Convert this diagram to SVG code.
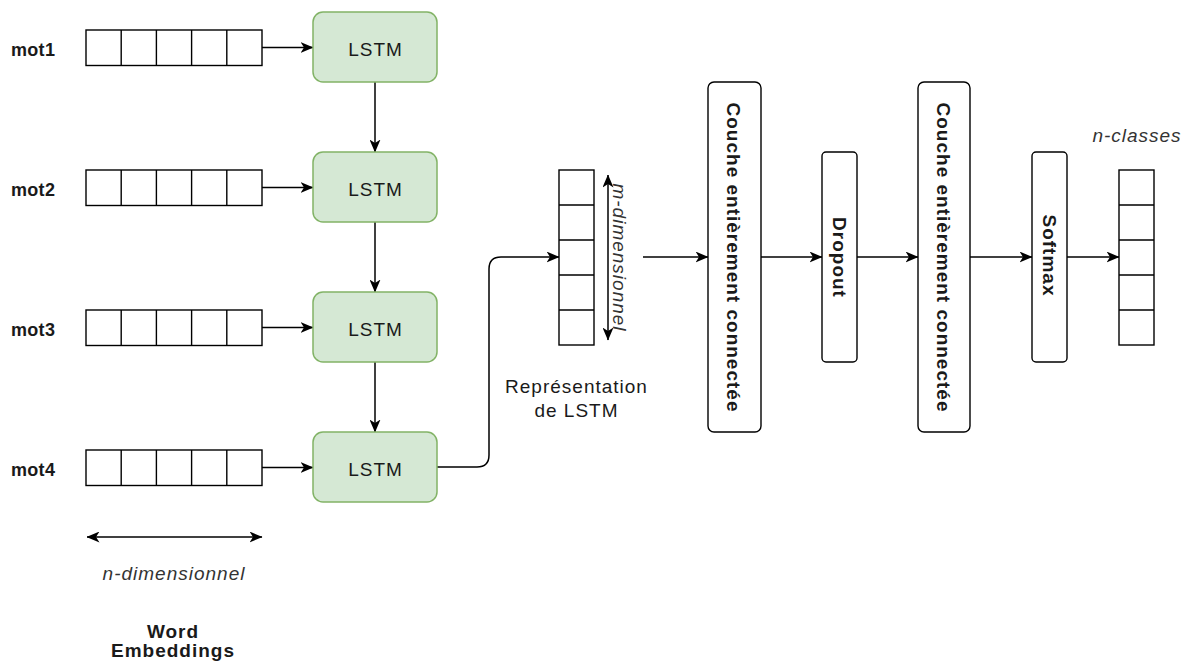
<svg xmlns="http://www.w3.org/2000/svg" width="1191" height="666" viewBox="0 0 1191 666">
<defs>
<marker id="arr" viewBox="0 0 13 11" markerWidth="13" markerHeight="11" refX="12.5" refY="5.5" orient="auto-start-reverse" markerUnits="userSpaceOnUse">
<path d="M0,0 L13,5.5 L0,11 L3.5,5.5 Z" fill="#000"/>
</marker>
<g id="vec5h">
<rect x="0" y="0" width="176" height="35.5" fill="#fff" stroke="#000" stroke-width="1.4"/>
<path d="M35.2,0 V35.5 M70.4,0 V35.5 M105.6,0 V35.5 M140.8,0 V35.5" stroke="#000" stroke-width="1.4" fill="none"/>
</g>
<g id="vec5v">
<rect x="0" y="0" width="35" height="175" fill="#fff" stroke="#000" stroke-width="1.4"/>
<path d="M0,35 H35 M0,70 H35 M0,105 H35 M0,140 H35" stroke="#000" stroke-width="1.4" fill="none"/>
</g>
</defs>
<style>
text { font-family: "Liberation Sans", Arial, sans-serif; font-size: 19px; fill: #1a1a1a; letter-spacing: 1px; }
.b { font-weight: bold; }
.m { font-size: 18px; letter-spacing: 0.3px; }
.i { font-style: italic; fill: #333; }
.mid { text-anchor: middle; }
.lstm { fill: #d5e8d4; stroke: #82b366; stroke-width: 1.5; }
.box { fill: #fff; stroke: #000; stroke-width: 1.4; }
.edge { fill: none; stroke: #000; stroke-width: 1.5; }
</style>

<g id="connectors">
<path class="edge" d="M262,47.5 H313" marker-end="url(#arr)"/>
<path class="edge" d="M262,187.5 H313" marker-end="url(#arr)"/>
<path class="edge" d="M262,327.5 H313" marker-end="url(#arr)"/>
<path class="edge" d="M262,467.5 H313" marker-end="url(#arr)"/>
<path class="edge" d="M375,82 V152" marker-end="url(#arr)"/>
<path class="edge" d="M375,222 V292" marker-end="url(#arr)"/>
<path class="edge" d="M375,362 V432" marker-end="url(#arr)"/>
<path class="edge" d="M437,467 H477 Q489,467 489,455 V269 Q489,257 501,257 H559" marker-end="url(#arr)"/>
<path class="edge" d="M643,257 H708" marker-end="url(#arr)"/>
<path class="edge" d="M761,257 H822" marker-end="url(#arr)"/>
<path class="edge" d="M857,257 H918" marker-end="url(#arr)"/>
<path class="edge" d="M970,257 H1032" marker-end="url(#arr)"/>
<path class="edge" d="M1067,257 H1119" marker-end="url(#arr)"/>
<path class="edge" d="M87,537 H262" marker-start="url(#arr)" marker-end="url(#arr)"/>
<path class="edge" d="M608,175 V340" marker-start="url(#arr)" marker-end="url(#arr)"/>
</g>

<g id="mot1"><text class="b m" x="11" y="56">mot1</text><use href="#vec5h" x="86" y="30"/></g>
<g id="mot2"><text class="b m" x="11" y="196">mot2</text><use href="#vec5h" x="86" y="170"/></g>
<g id="mot3"><text class="b m" x="11" y="336">mot3</text><use href="#vec5h" x="86" y="310"/></g>
<g id="mot4"><text class="b m" x="11" y="476">mot4</text><use href="#vec5h" x="86" y="450"/></g>

<g id="lstm1"><rect class="lstm" x="313" y="12" width="124" height="70" rx="10"/><text class="mid" x="375.5" y="55.5">LSTM</text></g>
<g id="lstm2"><rect class="lstm" x="313" y="152" width="124" height="70" rx="10"/><text class="mid" x="375.5" y="195.5">LSTM</text></g>
<g id="lstm3"><rect class="lstm" x="313" y="292" width="124" height="70" rx="10"/><text class="mid" x="375.5" y="335.5">LSTM</text></g>
<g id="lstm4"><rect class="lstm" x="313" y="432" width="124" height="70" rx="10"/><text class="mid" x="375.5" y="475.5">LSTM</text></g>

<g id="ndim"><text class="i mid" x="174" y="580">n-dimensionnel</text></g>
<g id="word-embeddings"><text class="b mid" x="173" y="638">Word</text><text class="b mid" x="173" y="657">Embeddings</text></g>

<g id="representation">
<use href="#vec5v" x="559" y="170"/>
<text class="i mid" transform="translate(613,257.5) rotate(90)">m-dimensionnel</text>
<text class="mid" x="576.5" y="393">Représentation</text>
<text class="mid" x="576.5" y="417">de LSTM</text>
</g>

<g id="fc1"><rect class="box" x="708" y="82" width="53" height="350" rx="6"/><text class="b mid" transform="translate(727,257.5) rotate(90)">Couche entièrement connectée</text></g>
<g id="dropout"><rect class="box" x="822" y="152" width="35" height="210" rx="4"/><text class="b mid" transform="translate(833,257.5) rotate(90)">Dropout</text></g>
<g id="fc2"><rect class="box" x="918" y="82" width="52" height="350" rx="6"/><text class="b mid" transform="translate(937,257.5) rotate(90)">Couche entièrement connectée</text></g>
<g id="softmax"><rect class="box" x="1032" y="152" width="35" height="210" rx="4"/><text class="b mid" transform="translate(1043,255.5) rotate(90)">Softmax</text></g>

<g id="output"><use href="#vec5v" x="1119" y="170"/><text class="i mid" x="1137" y="142">n-classes</text></g>
</svg>
